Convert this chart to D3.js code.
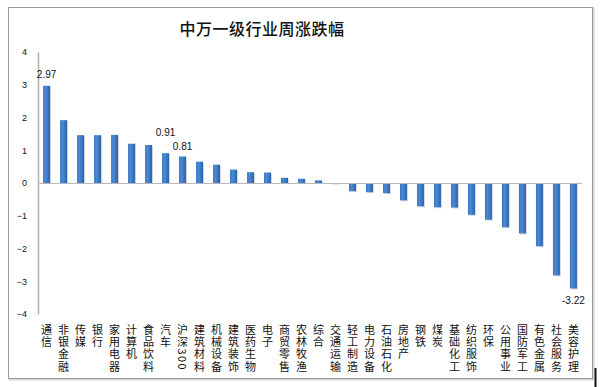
<!DOCTYPE html>
<html>
<head>
<meta charset="utf-8">
<script src="https://cdn.jsdelivr.net/npm/d3@7"></script>
<style>
  body { margin: 0; background: #fff; }
  svg { display: block; }
  text { font-family: "Noto Sans CJK SC", "DejaVu Sans", sans-serif; }
</style>
</head>
<body>
<svg id="svg" width="600" height="387"></svg>
<script>
var categories = ["通信", "非银金融", "传媒", "银行", "家用电器", "计算机", "食品饮料", "汽车",
  "沪深300", "建筑材料", "机械设备", "建筑装饰", "医药生物", "电子", "商贸零售", "农林牧渔",
  "综合", "交通运输", "轻工制造", "电力设备", "石油石化", "房地产", "钢铁", "煤炭",
  "基础化工", "纺织服饰", "环保", "公用事业", "国防军工", "有色金属", "社会服务", "美容护理"];
var values = [2.97, 1.92, 1.46, 1.46, 1.47, 1.20, 1.16, 0.91,
  0.81, 0.65, 0.56, 0.41, 0.33, 0.32, 0.16, 0.13,
  0.08, -0.02, -0.25, -0.28, -0.31, -0.53, -0.71, -0.74,
  -0.75, -0.97, -1.12, -1.35, -1.54, -1.93, -2.82, -3.22];
var yTicks = [4, 3, 2, 1, 0, -1, -2, -3, -4];
var labelled = ["通信", "汽车", "沪深300", "美容护理"];
// label gap from bar end, as in the original picture
var labelGap = { "通信": 8, "汽车": 17, "沪深300": 6, "美容护理": 8 };

var title = "中万一级行业周涨跌幅";

const svg = d3.select('#svg');

// outer frame
svg.append("rect")
  .attr("x", 9.5).attr("y", 8.5)
  .attr("width", 584).attr("height", 371)
  .style("fill", "none").style("stroke", "#d8d8d8").style("stroke-width", 2);
svg.append("rect")
  .attr("x", 8.5).attr("y", 7.5)
  .attr("width", 584).attr("height", 371)
  .style("fill", "#fff").style("stroke", "#9a9a9a");

// stray black mark at bottom right
svg.append("line")
  .attr("x1", 595.5).attr("x2", 595.5).attr("y1", 368).attr("y2", 387)
  .style("stroke", "#111").style("stroke-width", 2);

svg.append("text")
  .attr("x", 262).attr("y", 35)
  .attr("text-anchor", "middle")
  .style("font-size", "16px")
  .style("font-weight", "500")
  .style("letter-spacing", "0.5px")
  .style("fill", "#111")
  .text(title);

var left = 38, right = 582;
var x = d3.scaleBand().domain(categories).range([left, right]).paddingInner(0.59).paddingOuter(0.3);
var y = d3.scaleLinear().domain([-4, 4]).range([314, 52]);

var defs = svg.append("defs");
var grad = defs.append("linearGradient").attr("id", "barGrad")
  .attr("x1", 0).attr("x2", 1).attr("y1", 0).attr("y2", 0);
grad.append("stop").attr("offset", "0%").attr("stop-color", "#3b74c0");
grad.append("stop").attr("offset", "35%").attr("stop-color", "#4a8ad6");
grad.append("stop").attr("offset", "100%").attr("stop-color", "#2d62aa");

// bar shadows
svg.append("g").selectAll("rect")
  .data(values)
  .join("rect")
  .attr("x", (d, i) => x(categories[i]) + 1)
  .attr("y", d => Math.min(y(d), y(0)) + 1)
  .attr("width", x.bandwidth())
  .attr("height", d => Math.abs(y(d) - y(0)))
  .style("fill", "#d4d8de");

svg.append("g").selectAll("rect")
  .data(values)
  .join("rect")
  .attr("x", (d, i) => x(categories[i]))
  .attr("y", d => Math.min(y(d), y(0)))
  .attr("width", x.bandwidth())
  .attr("height", d => Math.abs(y(d) - y(0)))
  .style("fill", "url(#barGrad)");

// y axis
var yAxis = d3.axisLeft(y).tickValues(yTicks).tickSize(0).tickPadding(11);
var gy = svg.append("g").attr("transform", "translate(" + left + ",0)").call(yAxis);
gy.select(".domain").style("stroke", "#b0b0b0").style("stroke-width", 1.5);
gy.selectAll("text")
  .style("font-family", "Arial, 'Liberation Sans', sans-serif")
  .style("font-size", "9px")
  .style("fill", "#111");

// zero line
svg.append("line")
  .attr("x1", left).attr("x2", right)
  .attr("y1", y(0) + 0.5).attr("y2", y(0) + 0.5)
  .style("stroke", "#b8b8b8").style("stroke-width", 1.2);

// category labels, written top to bottom (digits turn sideways)
svg.append("g").selectAll("text")
  .data(categories)
  .join("text")
  .attr("x", c => x(c) + x.bandwidth() / 2)
  .attr("y", 324)
  .attr("text-anchor", "start")
  .style("writing-mode", "vertical-rl")
  .style("text-orientation", "mixed")
  .style("font-size", "11px")
  .style("letter-spacing", "1.3px")
  .style("fill", "#111")
  .text(c => c);

// value labels
svg.append("g").selectAll("text")
  .data(labelled)
  .join("text")
  .attr("x", c => x(c) + x.bandwidth() / 2)
  .attr("y", function (c) {
    var v = values[categories.indexOf(c)];
    return v >= 0 ? y(v) - labelGap[c] : y(v) + labelGap[c] + 8;
  })
  .attr("text-anchor", "middle")
  .style("font-family", "Arial, 'Liberation Sans', sans-serif")
  .style("font-size", "10px")
  .style("fill", "#111")
  .text(c => values[categories.indexOf(c)].toFixed(2));
</script>
</body>
</html>
